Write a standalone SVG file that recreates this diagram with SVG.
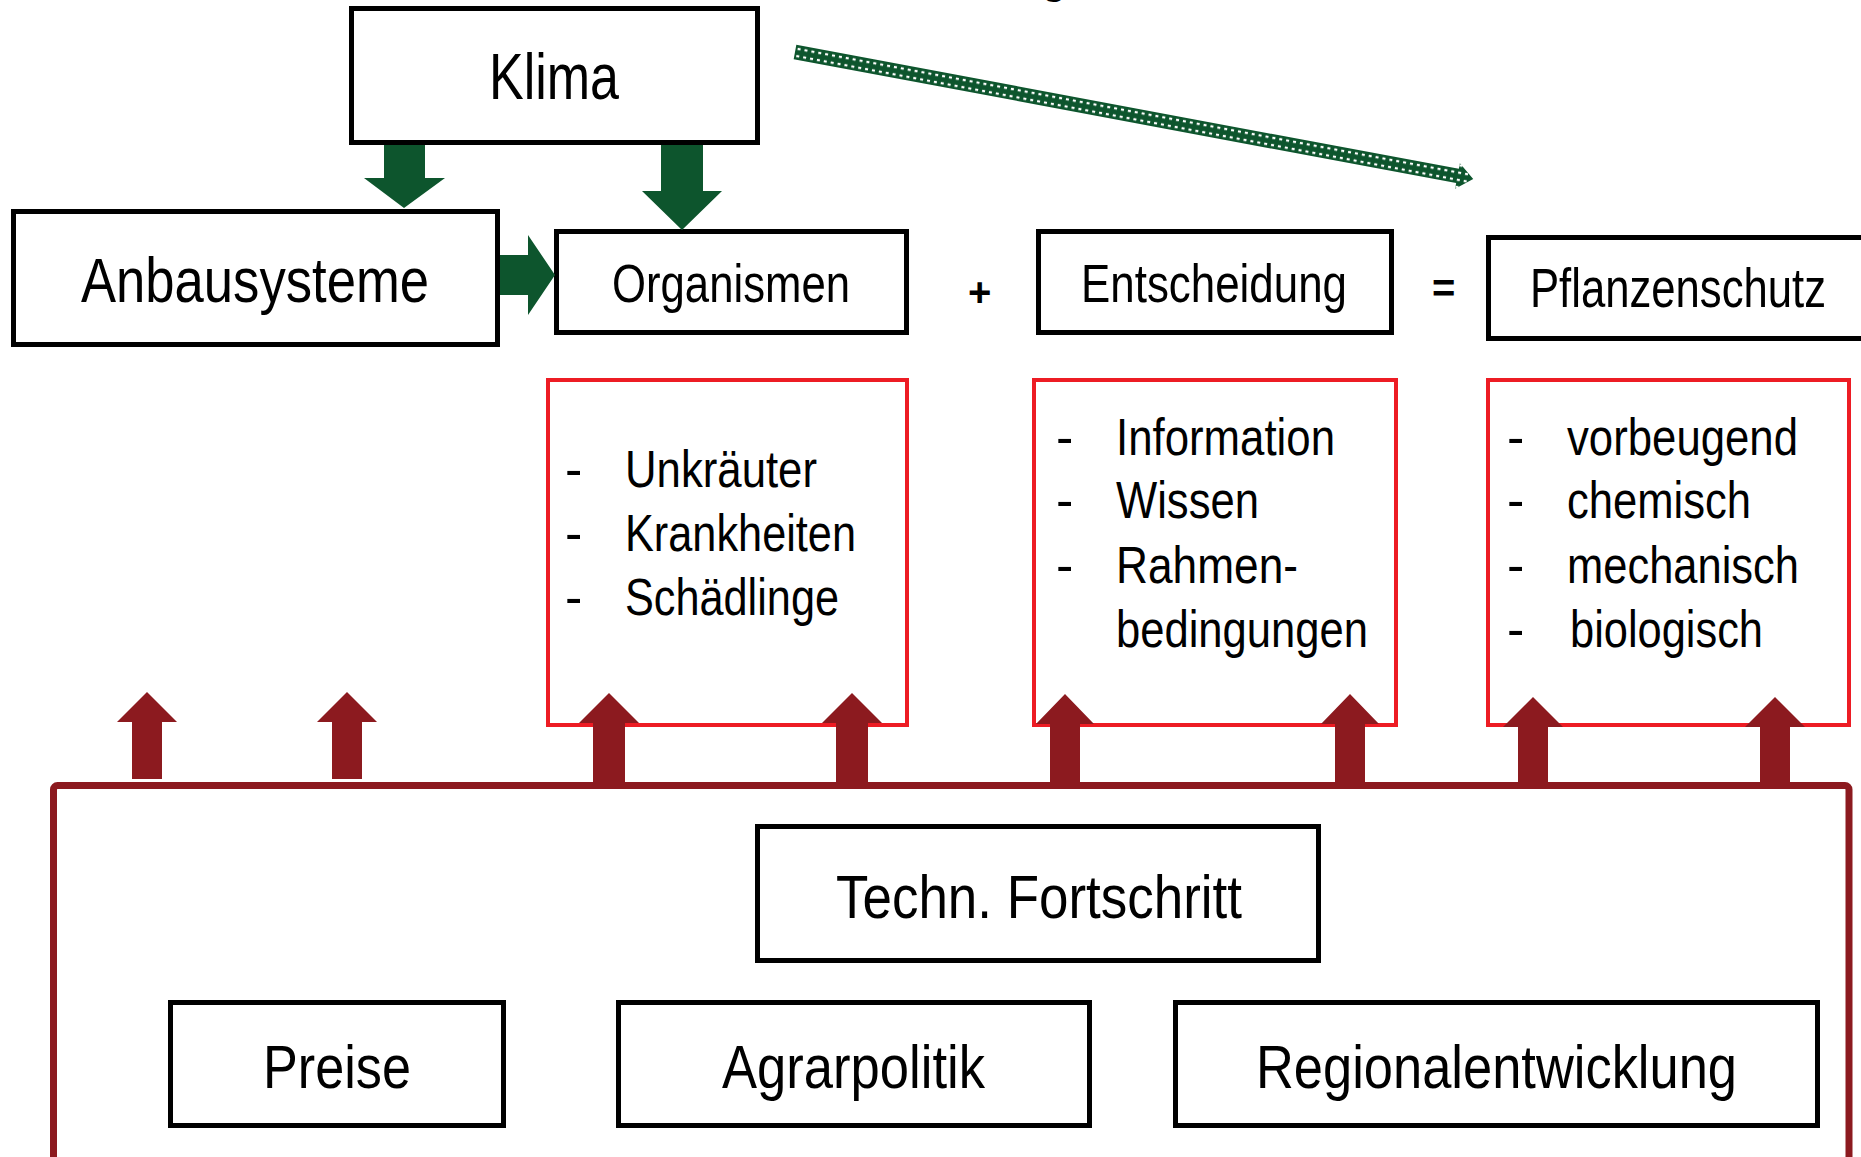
<svg xmlns="http://www.w3.org/2000/svg" width="1861" height="1157" viewBox="0 0 1861 1157">
  <style>
    .box { fill: #ffffff; stroke: #000000; stroke-width: 5; }
    .rbox { fill: #ffffff; stroke: #ED1C24; stroke-width: 4; }
    .frame { fill: #ffffff; stroke: #8C1A1F; stroke-width: 7; }
    .t { font-family: "Liberation Sans Narrow", "Liberation Sans", Arial, sans-serif; fill: #000000; }
    .big { font-size: 63px; }
    .mid { font-size: 53px; }
    .li { font-size: 52px; }
    .op { font-family: "Liberation Sans", Arial, sans-serif; font-weight: bold; font-size: 40px; fill: #000000; }
    .garrow { fill: #0D552D; }
    .rarrow { fill: #8C1A1F; }
  </style>
  <defs>
    <pattern id="dots" patternUnits="userSpaceOnUse" x="0" y="-7.25" width="7" height="7.25">
      <rect x="0" y="0" width="7" height="7.25" fill="#0D552D"/>
      <rect x="2" y="2.6" width="3" height="2.2" fill="#ffffff"/>
    </pattern>
  </defs>

  <!-- clipped title remnant -->
  <text class="op" x="1042" y="-6" font-size="60">g</text>

  <g id="frame-rahmen">
    <rect class="frame" x="53.5" y="785.5" width="1795.5" height="500" rx="4"/>
  </g>

  <g id="node-klima">
    <rect class="box" x="351.5" y="8.5" width="406" height="134"/>
    <text class="t" x="489" y="99" font-size="64" textLength="130" lengthAdjust="spacingAndGlyphs">Klima</text>
  </g>
  <g id="node-anbausysteme">
    <rect class="box" x="13.5" y="211.5" width="484" height="133"/>
    <text class="t big" x="81" y="302" textLength="348" lengthAdjust="spacingAndGlyphs">Anbausysteme</text>
  </g>
  <g id="node-organismen">
    <rect class="box" x="556.5" y="231.5" width="350" height="101"/>
    <text class="t mid" x="612" y="302" textLength="238" lengthAdjust="spacingAndGlyphs">Organismen</text>
  </g>
  <g id="node-entscheidung">
    <rect class="box" x="1038.5" y="231.5" width="353" height="101"/>
    <text class="t mid" x="1081" y="302" textLength="266" lengthAdjust="spacingAndGlyphs">Entscheidung</text>
  </g>
  <g id="node-pflanzenschutz">
    <rect class="box" x="1488.5" y="237.5" width="400" height="101"/>
    <text class="t" x="1530" y="307" font-size="55" textLength="296" lengthAdjust="spacingAndGlyphs">Pflanzenschutz</text>
  </g>

  <text class="op" x="968" y="306">+</text>
  <text class="op" x="1432" y="302">=</text>

  <g id="node-organismen-liste">
    <rect class="rbox" x="548" y="380" width="359" height="345"/>
    <text class="t li" x="565" y="487">-</text>
    <text class="t li" x="565" y="551">-</text>
    <text class="t li" x="565" y="615">-</text>
    <text class="t li" x="625" y="487" textLength="192" lengthAdjust="spacingAndGlyphs">Unkräuter</text>
    <text class="t li" x="625" y="551" textLength="231" lengthAdjust="spacingAndGlyphs">Krankheiten</text>
    <text class="t li" x="625" y="615" textLength="214" lengthAdjust="spacingAndGlyphs">Schädlinge</text>
  </g>
  <g id="node-entscheidung-liste">
    <rect class="rbox" x="1034" y="380" width="362" height="345"/>
    <text class="t li" x="1056" y="455">-</text>
    <text class="t li" x="1056" y="518">-</text>
    <text class="t li" x="1056" y="583">-</text>
    <text class="t li" x="1116" y="455" textLength="219" lengthAdjust="spacingAndGlyphs">Information</text>
    <text class="t li" x="1116" y="518" textLength="143" lengthAdjust="spacingAndGlyphs">Wissen</text>
    <text class="t li" x="1116" y="583" textLength="182" lengthAdjust="spacingAndGlyphs">Rahmen-</text>
    <text class="t li" x="1116" y="647" textLength="252" lengthAdjust="spacingAndGlyphs">bedingungen</text>
  </g>
  <g id="node-pflanzenschutz-liste">
    <rect class="rbox" x="1488" y="380" width="361" height="345"/>
    <text class="t li" x="1507" y="455">-</text>
    <text class="t li" x="1507" y="518">-</text>
    <text class="t li" x="1507" y="583">-</text>
    <text class="t li" x="1507" y="647">-</text>
    <text class="t li" x="1567" y="455" textLength="231" lengthAdjust="spacingAndGlyphs">vorbeugend</text>
    <text class="t li" x="1567" y="518" textLength="184" lengthAdjust="spacingAndGlyphs">chemisch</text>
    <text class="t li" x="1567" y="583" textLength="232" lengthAdjust="spacingAndGlyphs">mechanisch</text>
    <text class="t li" x="1570" y="647" textLength="193" lengthAdjust="spacingAndGlyphs">biologisch</text>
  </g>

  <g id="node-techn">
    <rect class="box" x="757.5" y="826.5" width="561" height="134"/>
    <text class="t" x="836" y="918" font-size="62" textLength="406" lengthAdjust="spacingAndGlyphs">Techn. Fortschritt</text>
  </g>
  <g id="node-preise">
    <rect class="box" x="170.5" y="1002.5" width="333" height="123"/>
    <text class="t" x="263" y="1088" font-size="62" textLength="148" lengthAdjust="spacingAndGlyphs">Preise</text>
  </g>
  <g id="node-agrarpolitik">
    <rect class="box" x="618.5" y="1002.5" width="471" height="123"/>
    <text class="t" x="722" y="1088" font-size="62" textLength="263" lengthAdjust="spacingAndGlyphs">Agrarpolitik</text>
  </g>
  <g id="node-regional">
    <rect class="box" x="1175.5" y="1002.5" width="642" height="123"/>
    <text class="t" x="1256" y="1088" font-size="62" textLength="481" lengthAdjust="spacingAndGlyphs">Regionalentwicklung</text>
  </g>

  <g id="connectors">
    <!-- green arrows -->
    <polygon class="garrow" points="384,145 425,145 425,178 445,178 404,208 364,178 384,178"/>
    <polygon class="garrow" points="661,145 703,145 703,191 722,191 682,230 642,191 661,191"/>
    <polygon class="garrow" points="500,255 528,255 528,235 555,275 528,315 528,295 500,295"/>
    <!-- hatched arrow -->
    <g transform="translate(795,52) rotate(10.6)">
      <polygon fill="url(#dots)" points="0,-7.25 674,-7.25 674,-13 690,0 674,13 674,7.25 0,7.25"/>
    </g>
    <!-- red arrows -->
    <polygon class="rarrow" points="132,779 132,722 117,722 147,692 177,722 162,722 162,779"/>
    <polygon class="rarrow" points="332,779 332,722 317,722 347,692 377,722 362,722 362,779"/>
    <polygon class="rarrow" points="593,784 593,723 579,723 609,693 639,723 625,723 625,784"/>
    <polygon class="rarrow" points="836,784 836,723 822,723 852,693 882,723 868,723 868,784"/>
    <polygon class="rarrow" points="1050,784 1050,724 1036,724 1065,694 1094,724 1080,724 1080,784"/>
    <polygon class="rarrow" points="1335,784 1335,724 1321,724 1350,694 1379,724 1365,724 1365,784"/>
    <polygon class="rarrow" points="1518,784 1518,727 1503,727 1533,697 1563,727 1548,727 1548,784"/>
    <polygon class="rarrow" points="1760,784 1760,727 1745,727 1775,697 1805,727 1790,727 1790,784"/>
  </g>
</svg>
